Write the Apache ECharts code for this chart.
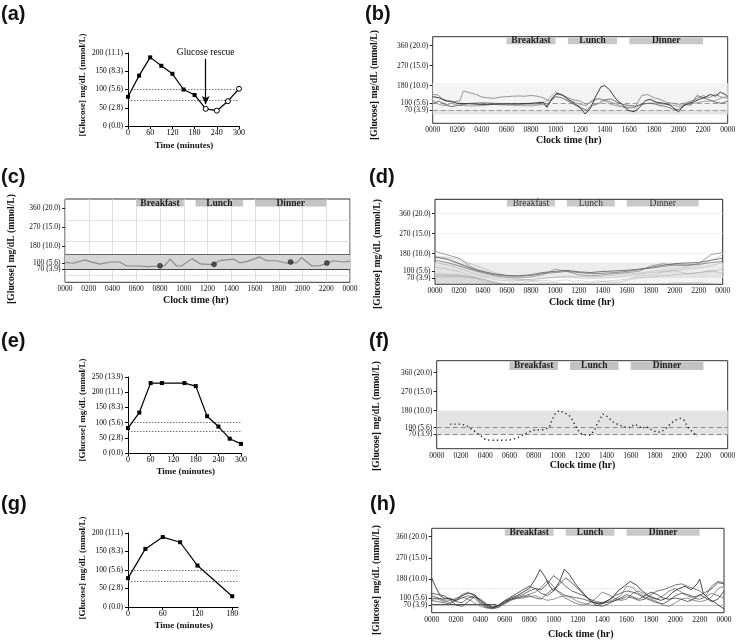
<!DOCTYPE html>
<html><head><meta charset="utf-8">
<script src="https://cdn.jsdelivr.net/npm/echarts@6/dist/echarts.min.js"></script>
<style>html,body{margin:0;padding:0;background:#fff}#c{width:739px;height:641px}</style>
</head><body><div id="c"></div>
<script>
// ---------- data ----------
const aTime = [0,30,60,90,120,150,180,210,240,270,300];
const aGlucose = [80,138,188,165,143,100,85,47,42,68,102];
const aRescued = [false,false,false,false,false,false,false,true,true,true,true];
const eTime = [0,30,60,90,150,180,210,240,270,300];
const eGlucose = [82,133,230,230,230,220,121,87,47,30];
const gTime = [0,30,60,90,120,180];
const gGlucose = [78,157,189,175,112,29];

const ottTicks200 = [0,50,100,150,200];
const ottLabels200 = ['0 (0.0)','50 (2.8)','100 (5.6)','150 (8.3)','200 (11.1)'];
const ottTicks250 = [0,50,100,150,200,250];
const ottLabels250 = ['0 (0.0)','50 (2.8)','100 (5.6)','150 (8.3)','200 (11.1)','250 (13.9)'];
const minuteTicks300 = [0,60,120,180,240,300];
const minuteTicks180 = [0,60,120,180];

const cgmTicksUpper = [100,180,270,360];
const cgmLabelsUpper = ['100 (5.6)','180 (10.0)','270 (15.0)','360 (20.0)'];
const cgmTicksLow = [70];
const cgmLabelsLow = ['70 (3.9)'];
const clockTicks = [0,2,4,6,8,10,12,14,16,18,20,22,24];
const clockLabels = ['0000','0200','0400','0600','0800','1000','1200','1400','1600','1800','2000','2200','0000'];
const meals = ['Breakfast','Lunch','Dinner'];
const mealStart = [6,11,16];
const mealEnd = [10,15,22];

// (b) four CGM traces [hour, mg/dL]
const b1 = [[0,130],[0.5,125],[1,112],[1.5,108],[2,100],[3,98],[4,95],[5,96],[6,97],[7,98],[8,100],[9,105],[9.3,82],[9.7,120],[10.1,145],[10.6,135],[11,120],[11.5,100],[12,82],[12.4,52],[12.8,75],[13.3,135],[13.7,175],[14,180],[14.4,160],[14.9,120],[15.4,95],[15.9,68],[16.4,62],[16.8,80],[17.3,112],[17.7,118],[18.2,105],[18.8,100],[19.3,92],[19.8,70],[20,62],[20.4,88],[20.8,100],[21.3,108],[21.7,118],[22.2,128],[22.6,140],[23,132],[23.4,150],[23.8,140],[24,130]];
const b2 = [[0,140],[0.4,138],[0.8,120],[1.2,112],[1.7,108],[2.2,110],[2.5,155],[3,148],[3.5,140],[4,128],[4.5,125],[5,122],[5.5,128],[6,130],[6.5,132],[7,133],[7.5,132],[8,135],[8.5,132],[9,125],[9.5,110],[10,140],[10.5,140],[11,125],[11.5,115],[12,110],[12.5,95],[13,110],[13.5,120],[14,115],[14.5,105],[15,95],[15.5,82],[16,78],[16.5,85],[17,135],[17.5,140],[18,125],[18.5,118],[19,105],[19.5,100],[20,95],[20.5,100],[21,110],[21.5,120],[22,135],[22.5,125],[23,140],[23.5,128],[24,122]];
const b3 = [[0,115],[0.5,95],[1,90],[1.5,100],[2,92],[3,88],[4,90],[5,95],[6,92],[7,90],[8,88],[9,95],[9.5,125],[10,150],[10.5,140],[11,115],[11.5,105],[12,95],[12.5,90],[13,115],[13.5,122],[14,110],[14.5,95],[15,88],[15.5,85],[16,82],[16.5,80],[17,98],[17.5,100],[18,102],[18.5,98],[19,95],[19.5,92],[20,85],[20.5,95],[21,98],[21.5,102],[22,108],[22.5,110],[23,112],[23.5,125],[24,130]];
const b4 = [[0,100],[0.5,110],[1,95],[1.5,85],[2,90],[2.5,95],[3,100],[4,102],[5,100],[6,98],[7,96],[8,97],[9,98],[9.2,88],[9.6,110],[10,130],[10.5,125],[11,110],[11.5,95],[12,80],[12.5,70],[13,90],[13.5,100],[14,115],[14.5,120],[15,105],[15.5,95],[16,90],[16.5,88],[17,95],[17.5,100],[18,98],[18.5,90],[19,85],[19.5,75],[20,72],[20.5,95],[21,92],[21.5,135],[22,125],[22.5,115],[23,105],[23.5,100],[24,110]];

// (c) single trace and meal-time fingersticks
const cTrace = [[0,102],[0.7,98],[1.7,114],[2.1,106],[2.95,94],[3.8,104],[4.6,104],[5.2,85],[6.3,85],[6.9,82],[8.0,85],[8.4,87],[8.85,118],[9.4,85],[9.8,85],[10.7,120],[11.4,95],[12.5,92],[13.1,112],[14.2,118],[14.7,100],[15.3,106],[16.4,128],[17.0,110],[17.8,110],[18.7,98],[19.0,102],[19.5,100],[19.9,125],[20.8,85],[21.5,87],[22.05,98],[22.6,110],[23.5,104],[24,108]];
const cFinger = [[8.0,86],[12.55,93],[19.0,104],[22.05,99]];

// (d) envelopes (half-hourly) and mean traces (hourly)
const dHalfHours = [0,0.5,1,1.5,2,2.5,3,3.5,4,4.5,5,5.5,6,6.5,7,7.5,8,8.5,9,9.5,10,10.5,11,11.5,12,12.5,13,13.5,14,14.5,15,15.5,16,16.5,17,17.5,18,18.5,19,19.5,20,20.5,21,21.5,22,22.5,23,23.5,24];
const dOuterHigh = [285,280,265,240,215,185,160,135,115,100,95,90,92,95,100,110,120,140,145,155,160,150,155,160,150,140,125,150,195,210,225,215,185,160,150,155,140,150,170,180,175,165,160,155,170,200,255,295,295];
const dOuterLow = [120,115,110,105,100,90,80,70,55,50,45,45,45,48,45,50,55,60,60,58,55,60,62,55,58,55,52,58,55,50,50,52,60,65,70,72,75,78,80,82,85,88,90,92,95,98,100,105,110];
const dHours = [0,1,2,3,4,5,6,7,8,9,10,11,12,13,14,15,16,17,18,19,20,21,22,23,24];
const dInnerHigh = [230,215,180,130,100,85,80,80,95,110,120,125,110,100,130,140,120,115,120,140,150,140,150,200,230];
const dInnerLow = [140,130,115,95,75,62,58,58,65,70,72,75,70,68,70,72,80,88,95,100,105,110,115,125,140];
const dNightHigh = [250,240,205,150,110,90,85,85,90,100,115,120,115,105,110,115,110,110,125,150,160,150,175,235,260];
const dNightLow = [170,160,140,110,85,70,65,62,62,68,75,80,78,75,78,82,88,92,100,108,115,118,125,150,175];
const dMean1 = [165,155,135,115,100,88,82,80,85,95,100,105,98,95,100,102,105,110,118,128,135,138,140,150,160];
const dMean2 = [150,140,125,108,95,85,80,78,82,90,95,100,95,90,92,95,100,108,115,122,128,130,132,140,145];
const dMean3 = [190,175,160,120,95,80,72,70,75,85,110,100,85,80,85,90,95,100,125,135,130,125,135,175,185];

// (f) CGM trace, one day
const fTrace = [[1.1,116],[1.6,116],[2.0,116],[2.3,112],[2.55,105],[2.8,95],[3.2,79],[3.6,63],[4.05,42],[4.5,40],[5.0,40],[5.5,40],[6.0,41],[6.3,45],[6.8,55],[7.2,68],[7.6,79],[8.0,87],[8.4,89],[8.9,90],[9.3,103],[9.5,135],[9.8,167],[10.1,180],[10.5,170],[10.9,159],[11.2,135],[11.5,103],[11.8,74],[12.3,65],[12.7,65],[13.0,87],[13.25,119],[13.7,164],[14.1,151],[14.5,127],[14.9,116],[15.5,103],[16.0,100],[16.3,116],[16.6,108],[17.0,95],[17.2,106],[17.7,90],[18.1,79],[18.5,79],[18.9,95],[19.3,119],[19.7,135],[20.1,143],[20.4,135],[20.7,103],[21.1,79],[21.5,58]];

// (h) six CGM traces
const h1 = [[0,185],[0.3,150],[0.7,110],[1,100],[1.5,95],[2,90],[2.5,110],[3,120],[3.5,115],[4,90],[4.5,70],[5,60],[5.5,70],[6,85],[6.5,100],[7,110],[7.5,125],[8,140],[8.5,180],[8.9,220],[9.3,190],[9.7,150],[10,130],[10.5,170],[10.9,222],[11.3,200],[11.8,160],[12.3,130],[12.8,100],[13.3,80],[13.8,75],[14.3,85],[14.8,100],[15.3,130],[15.8,150],[16.3,170],[16.8,155],[17.3,130],[17.8,110],[18.3,100],[18.8,90],[19.3,100],[19.8,125],[20.3,140],[20.8,150],[21.3,135],[21.8,160],[22,180],[22.3,120],[22.8,95],[23.3,80],[23.8,60],[24,55]];
const h2 = [[0,110],[0.5,100],[1,95],[1.5,100],[2,85],[2.5,80],[3,100],[3.5,110],[4,85],[4.5,65],[5,58],[5.5,65],[6,80],[6.5,95],[7,105],[7.5,115],[8,130],[8.5,140],[9,135],[9.5,160],[10,195],[10.5,175],[11,150],[11.5,130],[12,120],[12.5,110],[13,95],[13.5,85],[14,80],[14.5,90],[15,110],[15.5,120],[16,130],[16.5,125],[17,115],[17.5,100],[18,90],[18.5,80],[19,75],[19.5,90],[20,110],[20.5,120],[21,115],[21.5,105],[22,110],[22.5,125],[23,140],[23.5,165],[24,160]];
const h3 = [[0,95],[0.5,100],[1,90],[1.5,80],[2,95],[2.5,115],[3,125],[3.5,110],[4,80],[4.5,60],[5,55],[5.5,62],[6,75],[6.5,90],[7,100],[7.5,108],[8,115],[8.5,125],[9,145],[9.5,175],[10,150],[10.5,120],[11,100],[11.5,85],[12,75],[12.5,70],[13,80],[13.5,100],[14,125],[14.5,115],[15,100],[15.5,90],[16,95],[16.5,120],[17,130],[17.5,115],[18,100],[18.5,95],[19,110],[19.5,130],[20,140],[20.5,125],[21,110],[21.5,100],[22,95],[22.5,105],[23,120],[23.5,110],[24,100]];
const h4 = [[0,120],[0.5,115],[1,110],[1.5,95],[2,70],[2.5,65],[3,85],[3.5,105],[4,95],[4.5,75],[5,62],[5.5,70],[6,90],[6.5,105],[7,120],[7.5,135],[8,150],[8.5,140],[9,120],[9.5,110],[10,130],[10.5,160],[11,185],[11.5,165],[12,140],[12.5,115],[13,90],[13.5,70],[14,65],[14.5,75],[15,90],[15.5,100],[16,115],[16.5,105],[17,95],[17.5,110],[18,125],[18.5,115],[19,100],[19.5,95],[20,100],[20.5,95],[21,85],[21.5,95],[22,115],[22.5,100],[23,85],[23.5,95],[24,130]];
const h5 = [[0,100],[0.5,95],[1,85],[1.5,90],[2,100],[2.5,105],[3,95],[3.5,80],[4,65],[4.5,58],[5,55],[5.5,60],[6,78],[6.5,92],[7,98],[7.5,100],[8,105],[8.5,110],[9,100],[9.5,90],[10,95],[10.5,105],[11,110],[11.5,100],[12,85],[12.5,78],[13,70],[13.5,68],[14,75],[14.5,85],[15,95],[15.5,110],[16,150],[16.5,145],[17,120],[17.5,105],[18,95],[18.5,85],[19,70],[19.5,65],[20,80],[20.5,95],[21,100],[21.5,90],[22,85],[22.5,90],[23,105],[23.5,140],[24,150]];
const h6 = [[0,90],[0.5,85],[1,80],[1.5,75],[2,90],[2.5,100],[3,110],[3.5,100],[4,75],[4.5,60],[5,58],[5.5,70],[6,85],[6.5,95],[7,100],[7.5,105],[8,110],[8.5,100],[9,95],[9.5,120],[10,140],[10.5,125],[11,110],[11.5,105],[12,100],[12.5,95],[13,85],[13.5,80],[14,78],[14.5,82],[15,88],[15.5,95],[16,105],[16.5,100],[17,90],[17.5,95],[18,115],[18.5,130],[19,135],[19.5,145],[20,155],[20.5,160],[21,150],[21.5,140],[22,130],[22.5,110],[23,150],[23.5,170],[24,165]];

// ---------- helpers ----------
const SERIF = '"Liberation Serif","Times New Roman",serif';
const SANS = '"Liberation Sans",Arial,sans-serif';
const lab = (ticks, labels) => v => { const i = ticks.indexOf(v); return i >= 0 ? labels[i] : ''; };

const grids = [
  {left:128, top:53, width:111, height:73},
  {left:432.7, top:36.7, width:295, height:86.6, show:true, borderColor:'#333', borderWidth:1},
  {left:65, top:199, width:285, height:83.3, show:true, borderColor:'#333', borderWidth:1},
  {left:435, top:199.3, width:287.7, height:85, show:true, borderColor:'#222', borderWidth:1},
  {left:128, top:377, width:113, height:76},
  {left:436.7, top:360.7, width:291, height:88, show:true, borderColor:'#333', borderWidth:1},
  {left:128, top:533, width:110, height:74},
  {left:431.7, top:528.3, width:292.3, height:84.4, show:true, borderColor:'#333', borderWidth:1}
];
// per CGM grid: y-axis min / max
const cgmRange = {1:[10,400], 2:[8,402], 3:[42,425], 5:[0,416], 7:[38,395]};

function ottX(gi, max, ticks) {
  return {gridIndex:gi, type:'value', min:0, max:max,
    axisLine:{show:true, onZero:false, lineStyle:{color:'#000', width:1}},
    axisTick:{show:true, length:3, customValues:ticks, lineStyle:{color:'#000'}},
    axisLabel:{customValues:ticks, fontFamily:SERIF, fontSize:8, color:'#000', margin:3, hideOverlap:false, showMinLabel:true, showMaxLabel:true},
    splitLine:{show:false}};
}
function ottY(gi, max, ticks, labels) {
  return {gridIndex:gi, type:'value', min:0, max:max,
    axisLine:{show:true, onZero:false, lineStyle:{color:'#000', width:1}},
    axisTick:{show:true, length:3, customValues:ticks, lineStyle:{color:'#000'}},
    axisLabel:{customValues:ticks, formatter:lab(ticks, labels), fontFamily:SERIF, fontSize:7.5, color:'#000', margin:5, hideOverlap:false, showMinLabel:true, showMaxLabel:true},
    splitLine:{show:false}};
}
function cgmX(gi, split) {
  return {gridIndex:gi, type:'value', min:0, max:24, interval:2,
    axisLine:{show:false}, axisTick:{show:false},
    axisLabel:{formatter:lab(clockTicks, clockLabels), fontFamily:SERIF, fontSize:7.5, color:'#111', margin:3, hideOverlap:false, showMinLabel:true, showMaxLabel:true},
    splitLine:{show:!!split, lineStyle:{color:'#d8d8d8', width:0.8}}};
}
function cgmY(gi, ticks, labels) {
  return {gridIndex:gi, type:'value', position:'left', min:cgmRange[gi][0], max:cgmRange[gi][1],
    axisLine:{show:false},
    axisTick:{show:true, length:3, customValues:ticks, lineStyle:{color:'#222'}},
    axisLabel:{customValues:ticks, formatter:lab(ticks, labels), fontFamily:SERIF, fontSize:7.5, color:'#111', margin:4.5, hideOverlap:false, showMinLabel:true, showMaxLabel:true},
    splitLine:{show:false}};
}
function mealItems(y0, y1, barColor, bold, textColor) {
  return meals.map((m, i) => [
    {xAxis:mealStart[i], yAxis:y0, name:m, itemStyle:{color:barColor},
     label:{show:true, position:'inside', fontFamily:SERIF, fontSize:9.5, fontWeight:bold ? 'bold' : 'normal', color:textColor}},
    {xAxis:mealEnd[i], yAxis:y1}
  ]);
}
function band(lo, hi, color) {
  return [{yAxis:lo, itemStyle:{color:color}, label:{show:false}}, {yAxis:hi}];
}
function hline(v, color, type, width) {
  return {yAxis:v, lineStyle:{color:color, type:type, width:width || 1}};
}
function backdrop(gi, areas, lines) {
  return {type:'line', xAxisIndex:gi, yAxisIndex:gi, data:[], z:1, silent:true, symbol:'none',
    markArea:{silent:true, data:areas},
    markLine:{silent:true, symbol:'none', label:{show:false}, data:lines}};
}
function trace(gi, data, color, width, extra) {
  return Object.assign({type:'line', xAxisIndex:gi, yAxisIndex:gi, data:data, symbol:'none', z:5,
    lineStyle:{color:color, width:width}, silent:true}, extra || {});
}
function ottSeries(gi, times, vals, openFlags) {
  return {type:'line', xAxisIndex:gi, yAxisIndex:gi, z:5, silent:true,
    data: times.map((t, i) => {
      const open = openFlags ? openFlags[i] : false;
      return {value:[t, vals[i]], symbol: open ? 'circle' : 'rect', symbolSize: open ? 5 : 4,
        itemStyle: open ? {color:'#fff', borderColor:'#000', borderWidth:1} : {color:'#000'}};
    }),
    lineStyle:{color:'#000', width:1.2}};
}
function envelope(gi, key, xs, lo, hi, fill, edge) {
  const loData = xs.map((x, i) => [x, lo[i]]);
  const spanData = xs.map((x, i) => [x, hi[i] - lo[i]]);
  return [
    {type:'line', xAxisIndex:gi, yAxisIndex:gi, stack:key, data:loData, symbol:'none', z:3, silent:true,
     lineStyle:{color:edge, width:0.6}},
    {type:'line', xAxisIndex:gi, yAxisIndex:gi, stack:key, data:spanData, symbol:'none', z:3, silent:true,
     lineStyle:{color:edge, width:0.6}, areaStyle:{color:fill}}
  ];
}
const pair = (xs, ys) => xs.map((x, i) => [x, ys[i]]);

// ---------- series ----------
const series = [];
// (a)
const aS = ottSeries(0, aTime, aGlucose, aRescued);
aS.markLine = {silent:true, symbol:'none', label:{show:false}, data:[
  hline(100, '#666', [1.5,1.5], 0.9), hline(70, '#666', [1.5,1.5], 0.9),
  [{coord:[210,184], symbol:'none', label:{show:true, position:'start', formatter:'Glucose rescue', fontFamily:SERIF, fontSize:9.5, color:'#000', distance:1}, lineStyle:{color:'#000', type:'solid', width:1.2}},
   {coord:[210,60], symbol:'arrow', symbolSize:[6,8]}]
]};
series.push(aS);
// (b)
series.push(backdrop(1,
  [band(70,192,'#f3f3f3'), band(50,70,'#e4e4e4')].concat(mealItems(366,396,'#c8c8c8',true,'#222')),
  [hline(100,'#9a9a9a',[5,3],1), hline(70,'#9a9a9a',[5,3],1)]));
series.push(trace(1, b3, '#9a9a9a', 0.9));
series.push(trace(1, b2, '#8a8a8a', 0.9));
series.push(trace(1, b4, '#666', 0.9));
series.push(trace(1, b1, '#3a3a3a', 1));
// (c)
series.push(backdrop(2,
  [band(70,140,'#d6d6d6')].concat(mealItems(366,397,'#c4c4c4',true,'#222')),
  [hline(140,'#666','solid',1), hline(70,'#444','solid',1), hline(300,'#dcdcdc','solid',0.8), hline(200,'#dcdcdc','solid',0.8), hline(40,'#dcdcdc','solid',0.8)]));
series.push(trace(2, cTrace, '#8c8c8c', 1.2));
series.push({type:'scatter', xAxisIndex:2, yAxisIndex:2, data:cFinger, symbol:'circle', symbolSize:5, z:6, silent:true,
  itemStyle:{color:'#333', borderColor:'#000', borderWidth:0.5}});
// (d)
series.push(backdrop(3,
  [band(70,140,'#ececec')].concat(mealItems(392,422,'#c9c9c9',false,'#333')),
  [hline(180,'#efefef','solid',0.8), hline(270,'#efefef','solid',0.8), hline(360,'#efefef','solid',0.8)]));
envelope(3, 'dOuter', dHalfHours, dOuterLow, dOuterHigh, 'rgba(175,175,175,0.2)', 'rgba(130,130,130,0.5)').forEach(s => series.push(s));
envelope(3, 'dNight', dHours, dNightLow, dNightHigh, 'rgba(160,160,160,0.2)', 'rgba(120,120,120,0.45)').forEach(s => series.push(s));
envelope(3, 'dInner', dHours, dInnerLow, dInnerHigh, 'rgba(145,145,145,0.22)', 'rgba(110,110,110,0.45)').forEach(s => series.push(s));
series.push(trace(3, pair(dHours, dMean3), '#8a8a8a', 0.8));
series.push(trace(3, pair(dHours, dMean2), '#777', 0.8));
series.push(trace(3, pair(dHours, dMean1), '#666', 0.9));
// (e)
const eS = ottSeries(4, eTime, eGlucose, null);
eS.markLine = {silent:true, symbol:'none', label:{show:false}, data:[hline(100,'#666',[1.5,1.5],0.9), hline(70,'#666',[1.5,1.5],0.9)]};
series.push(eS);
// (f)
series.push(backdrop(5,
  [band(66,180,'#e3e3e3')].concat(mealItems(372,411,'#c2c2c2',true,'#222')),
  [hline(100,'#8a8a8a',[5,3],1), hline(70,'#8a8a8a',[5,3],1)]));
series.push(trace(5, fTrace, '#222', 1.4, {lineStyle:{color:'#222', width:1.4, type:[1.3,3]}}));
// (g)
const gS = ottSeries(6, gTime, gGlucose, null);
gS.markLine = {silent:true, symbol:'none', label:{show:false}, data:[hline(100,'#666',[1.5,1.5],0.9), hline(70,'#666',[1.5,1.5],0.9)]};
series.push(gS);
// (h)
series.push(backdrop(7,
  mealItems(364,391,'#c8c8c8',true,'#222'),
  [hline(70,'#bdbdbd','solid',1), hline(140,'#d0d0d0',[1.5,2],0.8),
   [{coord:[0,75], lineStyle:{color:'#555', width:1, type:'solid'}}, {coord:[5.3,75]}]]));
series.push(trace(7, h5, '#777', 0.8));
series.push(trace(7, h6, '#555', 0.8));
series.push(trace(7, h3, '#666', 0.8));
series.push(trace(7, h2, '#444', 0.8));
series.push(trace(7, h4, '#3a3a3a', 0.8));
series.push(trace(7, h1, '#333', 0.9));

// ---------- text ----------
const letters = [['(a)',1,4],['(b)',365,4],['(c)',1,167],['(d)',369,167],['(e)',1,331],['(f)',369,331],['(g)',1,494],['(h)',370,494]];
const yTitle = '[Glucose] mg/dL (mmol/L)';
const yTitlePos = [[83,85,9],[375,85,9.6],[11.7,249,9.6],[378,254,9.6],[83,410,9],[377,416,9.6],[83,568,9],[377,580,9.6]];
const xTitles = [['Time (minutes)',184,146,9],['Clock time (hr)',568.7,140,10],['Clock time (hr)',195.8,300,10],['Clock time (hr)',581.7,302,10],
  ['Time (minutes)',185.8,471.7,9],['Clock time (hr)',582.5,465,10],['Time (minutes)',183.7,626,9],['Clock time (hr)',580.7,634,10]];
const graphic = [];
letters.forEach(l => graphic.push({type:'text', left:l[1], top:l[2], style:{text:l[0], font:'bold 20px ' + SANS, fill:'#111'}}));
yTitlePos.forEach(p => graphic.push({type:'text', x:p[0], y:p[1], rotation:Math.PI/2,
  style:{text:yTitle, font:'bold ' + p[2] + 'px ' + SERIF, fill:'#111', textAlign:'center', textVerticalAlign:'middle'}}));
xTitles.forEach(p => graphic.push({type:'text', x:p[1], y:p[2],
  style:{text:p[0], font:'bold ' + p[3] + 'px ' + SERIF, fill:'#111', textAlign:'center', textVerticalAlign:'middle'}}));

const option = {
  animation:false,
  backgroundColor:'#fff',
  grid:grids,
  xAxis:[ottX(0,300,minuteTicks300), cgmX(1), cgmX(2,true), cgmX(3), ottX(4,300,minuteTicks300), cgmX(5), ottX(6,190,minuteTicks180), cgmX(7)],
  yAxis:[
    ottY(0,200,ottTicks200,ottLabels200),
    cgmY(1,cgmTicksUpper,cgmLabelsUpper), cgmY(2,cgmTicksUpper,cgmLabelsUpper), cgmY(3,cgmTicksUpper,cgmLabelsUpper),
    ottY(4,250,ottTicks250,ottLabels250),
    cgmY(5,cgmTicksUpper,cgmLabelsUpper),
    ottY(6,200,ottTicks200,ottLabels200),
    cgmY(7,cgmTicksUpper,cgmLabelsUpper),
    // second left axes carrying only the 70 mg/dL label
    cgmY(1,cgmTicksLow,cgmLabelsLow), cgmY(2,cgmTicksLow,cgmLabelsLow), cgmY(3,cgmTicksLow,cgmLabelsLow),
    cgmY(5,cgmTicksLow,cgmLabelsLow), cgmY(7,cgmTicksLow,cgmLabelsLow)
  ],
  series:series,
  graphic:graphic
};
const chart = echarts.init(document.getElementById('c'), null, {renderer:'canvas'});
chart.setOption(option);
</script></body></html>
